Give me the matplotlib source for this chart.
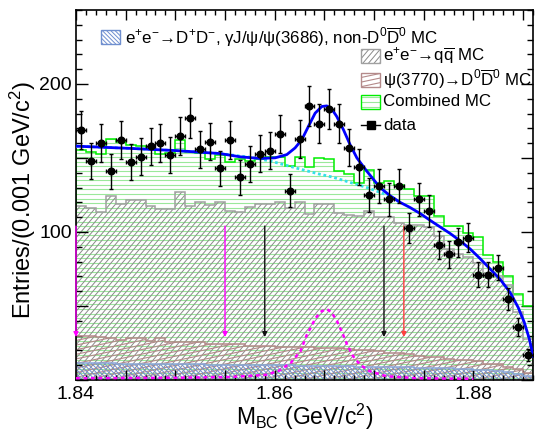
import numpy as np
import matplotlib
matplotlib.use("Agg")
import matplotlib.pyplot as plt
from matplotlib.patches import Rectangle
from matplotlib.collections import LineCollection
from matplotlib.transforms import IdentityTransform
from matplotlib.lines import Line2D

# ---------------- data ----------------
bin_low = 1.840
bin_width = 0.001
n_bins = 46

data_counts = [169, 148, 160, 141, 162, 147, 151, 158, 160, 152,
               165, 177, 156, 161, 143, 162, 137, 146, 153, 155,
               166, 128, 163, 185, 173, 183, 173, 157, 144, 125,
               131, 122, 131, 103, 122, 114, 91, 85, 93, 96,
               71, 71, 76, 55, 36, 17]

combined_mc = [155.7, 154, 152.8, 163, 160.6, 159, 158, 156.8, 152.8, 153.5,
               162, 154, 153.5, 149, 151.7, 147, 149, 148.3, 149, 150.8,
               151, 144.5, 151, 144, 150, 149, 141.5, 139, 133, 142,
               133, 134.4, 131.5, 129, 124.4, 124, 111, 104, 104, 99.5,
               96.5, 84.5, 80, 70, 58, 50]

qqbar_mc = [117.7, 116.3, 113.7, 124.6, 118.8, 121.3, 121.3, 117.5, 115.5, 115.5,
            127.2, 117.7, 120, 118, 120, 114, 113.5, 117, 119, 118.8,
            120.4, 116.5, 120, 112, 118.8, 118.8, 113, 111.4, 110.5, 114.3,
            110.4, 110, 106, 104.5, 104.5, 103.5, 97, 88.5, 85, 83,
            79, 72, 70, 64, 46, 28]

psi3770_mc = [29.5, 29.5, 29.3, 28.5, 27, 28.2, 28.2, 26.5, 28.2, 26,
              26, 26, 26, 24.5, 24.5, 24.5, 24, 23.3, 23.3, 23.3,
              22, 22, 22, 22, 21.5, 21.5, 21.5, 21, 20, 20,
              19.5, 18.5, 18, 17.5, 16, 15.8, 15.5, 14, 13.6, 13.4,
              13, 11, 10.5, 8.5, 7.5, 4.7]

dpdm_mc = [11.5, 11.3, 11.2, 11.2, 11.0, 11.0, 10.9, 10.8, 10.8, 10.7,
           10.6, 10.6, 10.5, 10.4, 10.3, 10.3, 10.2, 10.1, 10.0, 10.0,
           9.9, 9.8, 9.7, 9.6, 9.5, 9.4, 9.3, 9.2, 9.1, 9.0,
           8.9, 8.8, 8.7, 8.5, 8.4, 8.2, 8.0, 7.8, 7.6, 7.3,
           7.0, 6.6, 6.0, 5.2, 4.0, 2.5]

fit_mass = [1.8400, 1.84544, 1.85007, 1.85450, 1.85652, 1.85853, 1.86004, 1.86122,
            1.86205, 1.86273, 1.86339, 1.86407, 1.86474, 1.86525, 1.86575, 1.86625,
            1.86692, 1.86759, 1.86827, 1.86927, 1.87061, 1.87162, 1.87263, 1.87364,
            1.87464, 1.87595, 1.87766, 1.87867, 1.87968, 1.88068, 1.88169, 1.88270,
            1.88371, 1.88451, 1.88512, 1.88562, 1.88602]
fit_value = [158, 156.5, 155, 153, 150.8, 149.7, 150.1, 152.3,
             156.8, 162.4, 171.3, 180.3, 184.8, 185.2, 183, 178,
             169.1, 159, 150.1, 141.1, 130, 124.5, 120, 116.5,
             112.5, 106.5, 99, 94, 88.5, 82, 75, 68,
             59, 49, 39, 28, 16]

bkg_mass = [1.8400, 1.84544, 1.85007, 1.85450, 1.85752, 1.85954, 1.86256, 1.86457,
            1.86588, 1.86759, 1.86930, 1.87132, 1.87263]
bkg_value = [158, 156.5, 155, 153, 150.5, 148, 142.5, 139,
             137, 133.5, 130, 125, 120]

sig_mass = [1.8400, 1.8500, 1.8555, 1.8592, 1.8605, 1.8616, 1.8626, 1.8632, 1.8641,
            1.8646, 1.8652, 1.8657, 1.8663, 1.8668, 1.8673, 1.8679, 1.8686,
            1.8696, 1.8713, 1.8743, 1.8800]
sig_value = [1.2, 1.5, 2.0, 3.5, 6.5, 11.5, 19.5, 30, 41.6,
             46, 48, 46, 39.4, 32, 23.7, 16, 10.3,
             5.8, 2.5, 1.2, 0.8]

arrow_mass = [1.840, 1.855, 1.859, 1.871, 1.873]
arrow_colors = ['#ff00ff', '#ff00ff', '#111111', '#111111', '#ff4040']
arrow_top, arrow_bottom = 104, 29

xtick_major = [1.840, 1.845, 1.850, 1.855, 1.860, 1.865, 1.870, 1.875, 1.880, 1.885]
xtick_labels = ['1.84', '', '', '', '1.86', '', '', '', '1.88', '']
ytick_major = [0, 50, 100, 150, 200]
ytick_labels = ['', '', '100', '', '200']

# ---------------- style ----------------
plt.rcParams['font.family'] = ['Liberation Sans', 'DejaVu Sans']
plt.rcParams['mathtext.fontset'] = 'custom'
plt.rcParams['mathtext.rm'] = 'Liberation Sans'
plt.rcParams['mathtext.it'] = 'Liberation Sans:italic'
plt.rcParams['mathtext.bf'] = 'Liberation Sans:bold'

W, H = 535, 434
fig = plt.figure(figsize=(W / 100, H / 100), dpi=100)
AX_L, AX_R, AX_T, AX_B = 76, 533, 10, 380
ax = fig.add_axes([AX_L / W, 1 - AX_B / H, (AX_R - AX_L) / W, (AX_B - AX_T) / H])
ax.set_xlim(1.840, 1.8860)
ax.set_ylim(0, 250)

edges = bin_low + bin_width * np.arange(n_bins + 1)
centers = edges[:-1] + bin_width / 2


def hatch_lines(clip_patch, angle, spacing, color, lw, container, zorder):
    th = np.deg2rad(angle)
    d = np.array([np.cos(th), np.sin(th)])
    nrm = np.array([-np.sin(th), np.cos(th)])
    c0 = np.array([W / 2, H / 2])
    L = 1500
    nk = int(800 / spacing)
    segs = [[c0 + nrm * k * spacing - d * L, c0 + nrm * k * spacing + d * L]
            for k in range(-nk, nk + 1)]
    lc = LineCollection(segs, colors=color, linewidths=lw,
                        transform=IdentityTransform(), zorder=zorder)
    if container is ax:
        ax.add_collection(lc, autolim=False)
    else:
        fig.add_artist(lc)
    lc.set_clip_path(clip_patch)
    return lc


hist_specs = [
    (combined_mc, '#00ee00', '#9be89b', 0, 4.6, 0.8),
    (qqbar_mc, '#a0a0a0', '#8a8a8a', 50, 4.3, 0.7),
    (psi3770_mc, '#b48a8a', '#b48a8a', 12, 4.5, 0.8),
    (dpdm_mc, '#8aa6d8', '#6f8fd0', -45, 3.0, 0.7),
]
for i, (vals, ecol, hcol, ang, sp, hlw) in enumerate(hist_specs):
    clip = ax.stairs(vals, edges, baseline=0, fill=True, facecolor='none',
                     edgecolor='none', linewidth=0)
    hatch_lines(clip, ang, sp, hcol, hlw, ax, 1 + 0.1 * i)
    ax.stairs(vals, edges, baseline=0, color=ecol, linewidth=1.1, zorder=2 + 0.1 * i)

# signal component (magenta dashed)
ax.plot(sig_mass, sig_value, color='#ff00ff', lw=1.8, ls=(0, (1.5, 1.5)), zorder=3)

# arrows
for m, c in zip(arrow_mass, arrow_colors):
    ax.annotate('', xy=(m, arrow_bottom), xytext=(m, arrow_top),
                arrowprops=dict(arrowstyle='-|>', color=c, lw=1.0,
                                mutation_scale=7, shrinkA=0, shrinkB=0),
                annotation_clip=False, zorder=3.5)

# background and total fit
ax.plot(bkg_mass, bkg_value, color='#33e0e8', lw=2.0, ls=(0, (1, 1)), zorder=4)
ax.plot(fit_mass, fit_value, color='#0000ff', lw=2.0, zorder=5)

# data
ax.errorbar(centers, data_counts, xerr=bin_width / 2, yerr=np.sqrt(data_counts),
            fmt='o', color='black', ms=4.8, elinewidth=1.0, capsize=1.6,
            capthick=1.0, zorder=6)

# axes styling
for s in ax.spines.values():
    s.set_linewidth(1.2)
ax.set_xticks(xtick_major)
ax.set_xticklabels(xtick_labels)
ax.set_yticks(ytick_major)
ax.set_yticklabels(ytick_labels)
ax.set_xticks(np.round(np.arange(1.840, 1.8861, 0.001), 4), minor=True)
ax.set_yticks(np.arange(0, 251, 10), minor=True)
ax.tick_params(which='both', direction='in', top=True, right=True, width=1.0,
               labelsize=14, colors='black')
ax.xaxis.set_tick_params(which='major', length=7, pad=4)
ax.xaxis.set_tick_params(which='minor', length=3.6)
ax.yaxis.set_tick_params(which='major', length=8.6, pad=3)
ax.yaxis.set_tick_params(which='minor', length=4.3)

fig.text((AX_L + AX_R) / 2 / W, 1 - 417 / H, r'M$_{\rm BC}$ (GeV/c$^{2}$)',
         ha='center', va='center', fontsize=16.5)
fig.text(23 / W, 1 - 200 / H, r'Entries/(0.001 GeV/c$^{2}$)',
         ha='center', va='center', rotation=90, fontsize=17)


# ---------------- legend ----------------
def legend_box(x0, yc, ecol, hcol, ang, sp, hlw):
    w, h = 19, 14
    rect = Rectangle((x0, H - yc - h / 2), w, h, transform=IdentityTransform(),
                     fill=False, edgecolor=ecol, linewidth=1.0, zorder=10)
    fig.add_artist(rect)
    hatch_lines(rect, ang, sp, hcol, hlw, fig, 9)


legend_box(101, 37, '#6f8fcf', '#6f8fd0', -45, 3.0, 0.7)
fig.text(125 / W, 1 - 37 / H,
         r'e$^{+}$e$^{-}$→D$^{+}$D$^{-}$, γJ/ψ/ψ(3686), non-D$^{0}$$\overline{\rm D}^{0}$ MC',
         ha='left', va='center', fontsize=12.2)

legend_rows = [
    (56, '#a0a0a0', '#8a8a8a', 50, 4.3, 0.7, r'e$^{+}$e$^{-}$→q$\overline{\rm q}$ MC'),
    (79.5, '#b48a8a', '#b48a8a', 12, 4.5, 0.8, r'ψ(3770)→D$^{0}$$\overline{\rm D}^{0}$ MC'),
    (102, '#00ee00', '#9be89b', 0, 4.6, 0.8, 'Combined MC'),
]
for yc, ecol, hcol, ang, sp, hlw, label in legend_rows:
    legend_box(361, yc, ecol, hcol, ang, sp, hlw)
    fig.text(383 / W, 1 - yc / H, label, ha='left', va='center', fontsize=12.2)

# data legend entry
yd = 125
fig.add_artist(Line2D([361 / W, 380 / W], [1 - yd / H, 1 - yd / H], color='black', lw=1.0))
fig.add_artist(Line2D([370.5 / W], [1 - yd / H], marker='s', ms=6, color='black', lw=0))
fig.text(383 / W, 1 - yd / H, 'data', ha='left', va='center', fontsize=12.2)

fig.savefig('out.png', dpi=100)
